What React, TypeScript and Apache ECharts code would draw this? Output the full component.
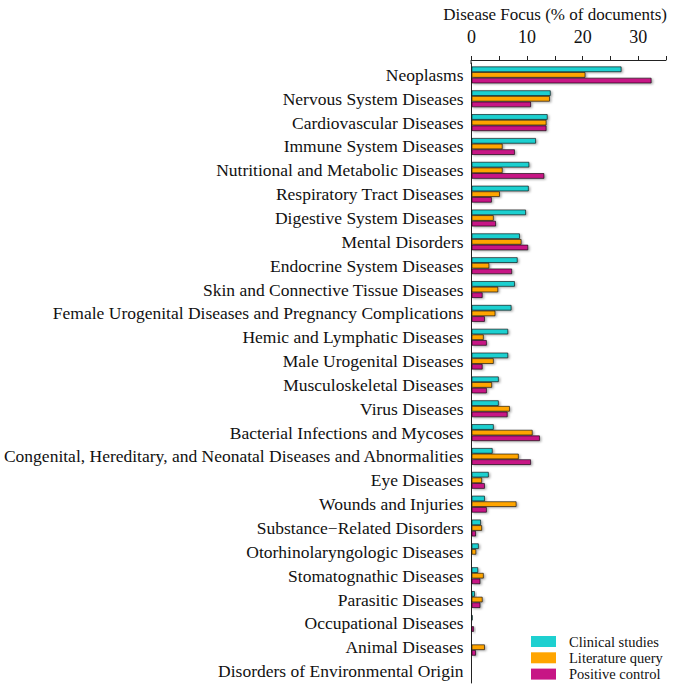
import React, { useEffect, useRef } from "react";
import * as echarts from "echarts";

const categories = [
  "Neoplasms",
  "Nervous System Diseases",
  "Cardiovascular Diseases",
  "Immune System Diseases",
  "Nutritional and Metabolic Diseases",
  "Respiratory Tract Diseases",
  "Digestive System Diseases",
  "Mental Disorders",
  "Endocrine System Diseases",
  "Skin and Connective Tissue Diseases",
  "Female Urogenital Diseases and Pregnancy Complications",
  "Hemic and Lymphatic Diseases",
  "Male Urogenital Diseases",
  "Musculoskeletal Diseases",
  "Virus Diseases",
  "Bacterial Infections and Mycoses",
  "Congenital, Hereditary, and Neonatal Diseases and Abnormalities",
  "Eye Diseases",
  "Wounds and Injuries",
  "Substance\u2212Related Disorders",
  "Otorhinolaryngologic Diseases",
  "Stomatognathic Diseases",
  "Parasitic Diseases",
  "Occupational Diseases",
  "Animal Diseases",
  "Disorders of Environmental Origin",
];

const clinicalStudies = [27.0, 14.25, 13.7, 11.6, 10.4, 10.3, 9.8, 8.7, 8.3, 7.8, 7.2, 6.6, 6.6, 4.9, 4.9, 4.0, 3.8, 3.1, 2.4, 1.7, 1.3, 1.2, 0.6, 0.2, 0, 0];
const literatureQuery = [20.5, 14.1, 13.5, 5.6, 5.6, 5.1, 4.0, 9.0, 3.2, 4.8, 4.3, 2.2, 4.0, 3.7, 6.9, 11.0, 8.5, 1.9, 8.1, 1.9, 0.85, 2.2, 2.0, 0.1, 2.4, 0];
const positiveControl = [32.4, 10.7, 13.5, 7.8, 13.1, 3.65, 4.4, 10.2, 7.3, 2.0, 2.4, 2.75, 2.0, 2.75, 6.5, 12.3, 10.7, 2.4, 2.75, 0.8, 0, 1.6, 1.6, 0.45, 0.8, 0];

const seriesNames = ["Clinical studies", "Literature query", "Positive control"];
const seriesColors = ["#1ED0D0", "#FFA500", "#C71585"];
const seriesData = [clinicalStudies, literatureQuery, positiveControl];

const FONT = "'Liberation Serif', 'Times New Roman', serif";

export default function App() {
  const ref = useRef<HTMLDivElement>(null);
  useEffect(() => {
    if (!ref.current) return;
    const chart = echarts.init(ref.current, null, { renderer: "svg" });
    chart.setOption({
      animation: false,
      backgroundColor: "#ffffff",
      textStyle: { fontFamily: FONT },
      title: {
        text: "Disease Focus (% of documents)",
        right: 5,
        top: 1,
        textStyle: { fontFamily: FONT, fontSize: 17, fontWeight: "normal", color: "#111" },
      },
      legend: {
        orient: "vertical",
        left: 531,
        top: 634,
        padding: 0,
        itemWidth: 25,
        itemHeight: 11,
        itemGap: 1.3,
        icon: "rect",
        data: seriesNames,
        textStyle: {
          fontFamily: FONT,
          fontSize: 14.5,
          lineHeight: 11,
          color: "#111",
          padding: [0, 0, 0, 8],
        },
        itemStyle: { borderWidth: 0, shadowBlur: 0, shadowOffsetX: 0, shadowOffsetY: 0 },
      },
      grid: { left: 471, right: 11, top: 63, bottom: 10 },
      xAxis: {
        type: "value",
        position: "top",
        offset: 3,
        min: 0,
        max: 35,
        interval: 5,
        splitLine: { show: false },
        axisLine: { show: true, lineStyle: { color: "#222", width: 1 } },
        axisTick: { show: true, length: 4, lineStyle: { color: "#222" } },
        axisLabel: {
          fontFamily: FONT,
          fontSize: 18,
          color: "#111",
          margin: 14,
          formatter: (v: number) => (v % 10 === 0 && v <= 30 ? String(v) : ""),
        },
      },
      yAxis: {
        type: "category",
        data: categories,
        inverse: true,
        axisLine: { show: true, lineStyle: { color: "#222", width: 1 } },
        axisTick: { show: false },
        axisLabel: { fontFamily: FONT, fontSize: 17.5, color: "#111", margin: 8 },
      },
      graphic: [
        {
          type: "line",
          shape: { x1: 471, y1: 60, x2: 471, y2: 64 },
          style: { stroke: "#222", lineWidth: 1 },
        },
      ],
      series: seriesNames.map((name, i) => ({
        name,
        type: "bar",
        data: seriesData[i],
        barGap: "0%",
        barCategoryGap: "29%",
        itemStyle: {
          color: seriesColors[i],
          borderColor: "rgba(0,0,0,0.75)",
          borderWidth: 0.8,
          shadowColor: "rgba(0,0,0,0.35)",
          shadowBlur: 2,
          shadowOffsetX: 1.5,
          shadowOffsetY: 1,
        },
      })),
    });
    return () => chart.dispose();
  }, []);
  return (
    <div
      ref={ref}
      style={{ position: "absolute", left: 0, top: 0, width: 677, height: 693 }}
    />
  );
}
